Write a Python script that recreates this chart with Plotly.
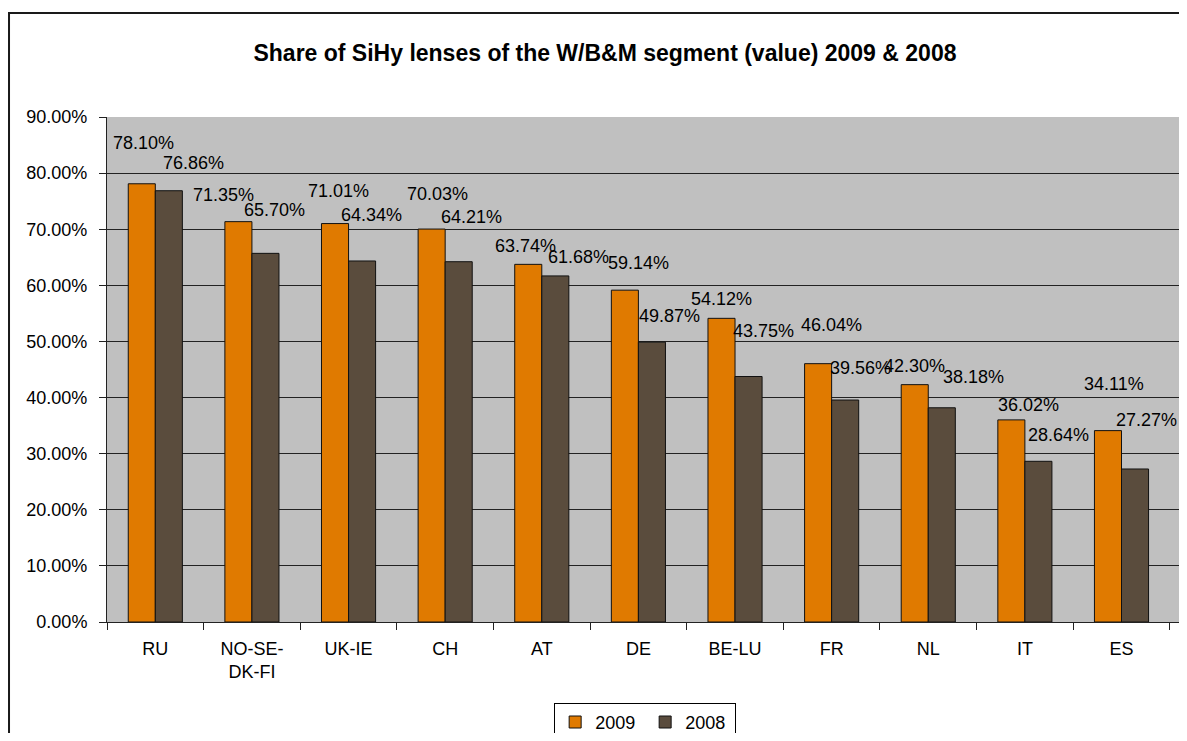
import plotly.graph_objects as go

categories = ["RU", "NO-SE-<br>DK-FI", "UK-IE", "CH", "AT", "DE", "BE-LU", "FR", "NL", "IT", "ES"]
share_2009 = [0.7810, 0.7135, 0.7101, 0.7003, 0.6374, 0.5914, 0.5412, 0.4604, 0.4230, 0.3602, 0.3411]
share_2008 = [0.7686, 0.6570, 0.6434, 0.6421, 0.6168, 0.4987, 0.4375, 0.3956, 0.3818, 0.2864, 0.2727]
y_ticks = [0.0, 0.1, 0.2, 0.3, 0.4, 0.5, 0.6, 0.7, 0.8, 0.9]

# label placement (pixel shifts from category centre / bar top), as placed in the original
label_dx_2009 = [-12, -28, -10, -8, -16, 0, -14, 0, -14, 4, -8]
label_dy_2009 = [41, 27, 33, 35, 18, 27, 19, 39, 19, 15, 47]
label_dx_2008 = [38, 23, 23, 26, 37, 31, 28, 29, 45, 34, 25]
label_dy_2008 = [28, 43, 46, 45, 19, 26, 46, 32, 31, 26, 49]

FONT = "Arial, 'Liberation Sans', sans-serif"
ORANGE = "#E07A00"
BROWN = "#5A4C3D"

fig = go.Figure()
fig.add_trace(go.Bar(name="2009", x=categories, y=share_2009,
                     marker=dict(color=ORANGE, line=dict(color="#111111", width=1))))
fig.add_trace(go.Bar(name="2008", x=categories, y=share_2008,
                     marker=dict(color=BROWN, line=dict(color="#111111", width=1))))

for vals, dxs, dys in ((share_2009, label_dx_2009, label_dy_2009),
                       (share_2008, label_dx_2008, label_dy_2008)):
    for c, v, dx, dy in zip(categories, vals, dxs, dys):
        fig.add_annotation(x=c, y=v, xref="x", yref="y", text=f"{v*100:.2f}%",
                           showarrow=False, xshift=dx, yshift=dy,
                           xanchor="center", yanchor="middle",
                           font=dict(family=FONT, size=18, color="#000000"))

# outer chart border
fig.add_shape(type="rect", xref="paper", yref="paper",
              x0=-0.0914, x1=1.2, y0=-0.4, y1=1.206,
              line=dict(color="#1a1a1a", width=2), fillcolor="rgba(0,0,0,0)", layer="below")

fig.update_layout(
    width=1171, height=725,
    margin=dict(l=99, r=0, t=109, b=111, autoexpand=False),
    paper_bgcolor="#FFFFFF", plot_bgcolor="#C0C0C0",
    barmode="group", bargap=0.44, bargroupgap=0.0,
    font=dict(family=FONT, size=18, color="#000000"),
    title=dict(text="<b>Share of SiHy lenses of the W/B&M segment (value) 2009 & 2008</b>",
               xref="container", yref="container", x=0.5098, y=0.9379,
               xanchor="center", yanchor="middle",
               font=dict(family=FONT, size=23, color="#000000")),
    legend=dict(orientation="h", x=0.502, y=-0.160, xanchor="center", yanchor="top",
                bordercolor="#000000", borderwidth=1, bgcolor="#FFFFFF",
                font=dict(family=FONT, size=18), itemwidth=30, entrywidth=45,
                entrywidthmode="pixels"),
    showlegend=True,
)
fig.update_yaxes(range=[0, 0.9], tickvals=y_ticks, tickformat=".2%",
                 showgrid=True, gridcolor="#222222", gridwidth=1,
                 showline=True, linecolor="#222222", linewidth=1,
                 ticks="outside", ticklen=7, tickcolor="#222222",
                 ticklabelstandoff=8, zeroline=False,
                 tickfont=dict(family=FONT, size=18))
fig.update_xaxes(showline=True, linecolor="#222222", linewidth=1,
                 ticks="outside", ticklen=7, tickcolor="#222222", tickson="boundaries",
                 ticklabelstandoff=10,
                 tickfont=dict(family=FONT, size=18))

fig.write_html("out.html")
